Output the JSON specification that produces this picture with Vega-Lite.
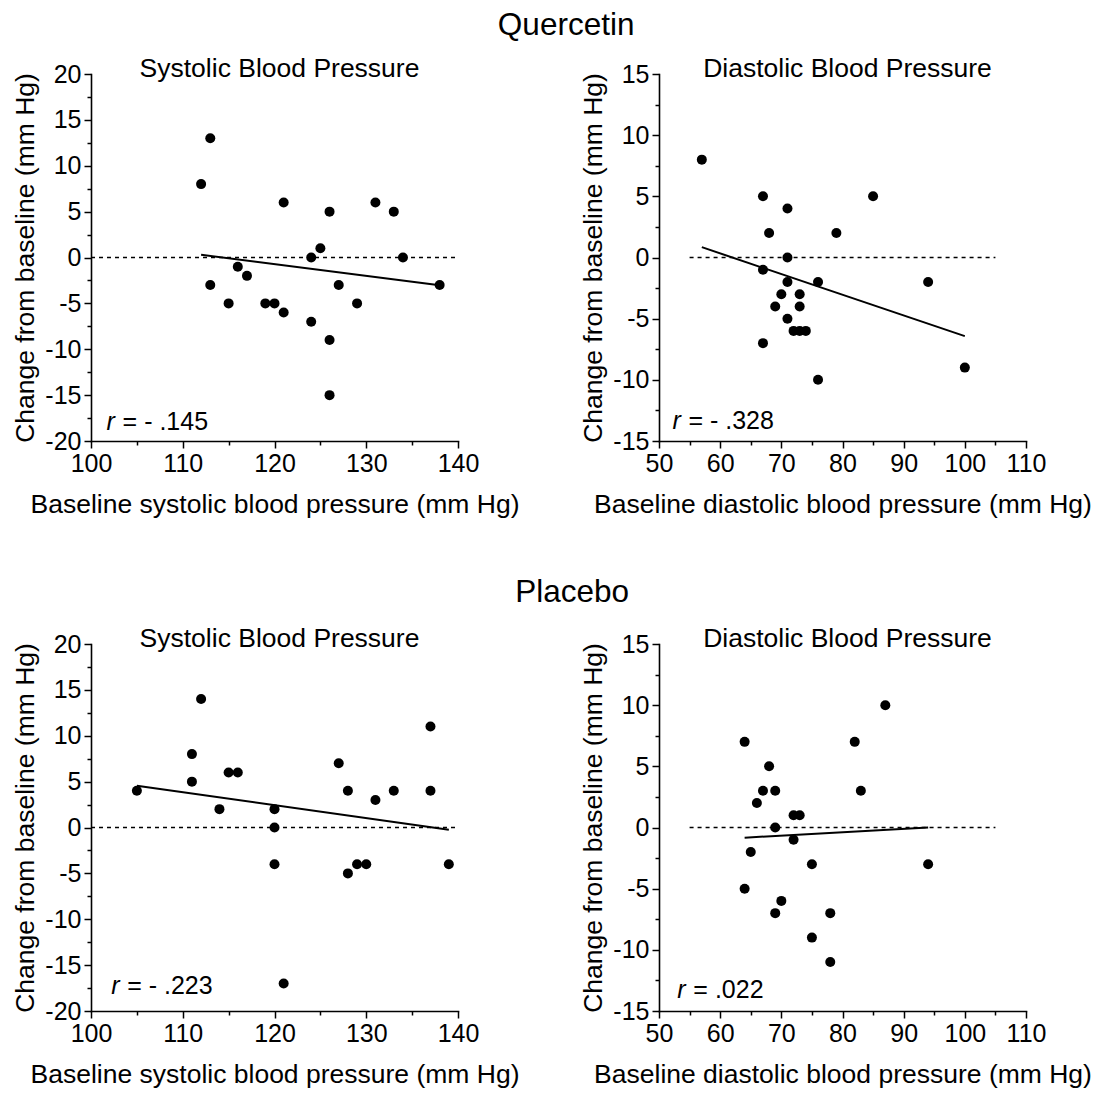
{
  "$schema": "https://vega.github.io/schema/vega-lite/v6.json",
  "background": "white",
  "padding": {"left": 12, "top": 10, "right": 5, "bottom": 5},
  "datasets": {
    "qs": [
      {"bp": 113, "change": 13}, {"bp": 112, "change": 8}, {"bp": 121, "change": 6}, {"bp": 126, "change": 5},
      {"bp": 131, "change": 6}, {"bp": 133, "change": 5}, {"bp": 125, "change": 1}, {"bp": 124, "change": 0},
      {"bp": 134, "change": 0}, {"bp": 116, "change": -1}, {"bp": 117, "change": -2}, {"bp": 113, "change": -3},
      {"bp": 127, "change": -3}, {"bp": 138, "change": -3}, {"bp": 115, "change": -5}, {"bp": 119, "change": -5},
      {"bp": 120, "change": -5}, {"bp": 129, "change": -5}, {"bp": 121, "change": -6}, {"bp": 124, "change": -7},
      {"bp": 126, "change": -9}, {"bp": 126, "change": -15}
    ],
    "qd": [
      {"bp": 57, "change": 8}, {"bp": 67, "change": 5}, {"bp": 71, "change": 4}, {"bp": 85, "change": 5},
      {"bp": 68, "change": 2}, {"bp": 79, "change": 2}, {"bp": 71, "change": 0}, {"bp": 67, "change": -1},
      {"bp": 71, "change": -2}, {"bp": 76, "change": -2}, {"bp": 94, "change": -2}, {"bp": 70, "change": -3},
      {"bp": 73, "change": -3}, {"bp": 69, "change": -4}, {"bp": 73, "change": -4}, {"bp": 71, "change": -5},
      {"bp": 72, "change": -6}, {"bp": 73, "change": -6}, {"bp": 74, "change": -6}, {"bp": 67, "change": -7},
      {"bp": 76, "change": -10}, {"bp": 100, "change": -9}
    ],
    "ps": [
      {"bp": 105, "change": 4}, {"bp": 111, "change": 8}, {"bp": 112, "change": 14}, {"bp": 111, "change": 5},
      {"bp": 115, "change": 6}, {"bp": 116, "change": 6}, {"bp": 114, "change": 2}, {"bp": 120, "change": 2},
      {"bp": 120, "change": 0}, {"bp": 120, "change": -4}, {"bp": 121, "change": -17}, {"bp": 127, "change": 7},
      {"bp": 128, "change": 4}, {"bp": 128, "change": -5}, {"bp": 129, "change": -4}, {"bp": 130, "change": -4},
      {"bp": 131, "change": 3}, {"bp": 133, "change": 4}, {"bp": 137, "change": 11}, {"bp": 137, "change": 4},
      {"bp": 139, "change": -4}
    ],
    "pd": [
      {"bp": 64, "change": 7}, {"bp": 87, "change": 10}, {"bp": 82, "change": 7}, {"bp": 68, "change": 5},
      {"bp": 67, "change": 3}, {"bp": 69, "change": 3}, {"bp": 83, "change": 3}, {"bp": 66, "change": 2},
      {"bp": 72, "change": 1}, {"bp": 73, "change": 1}, {"bp": 69, "change": 0}, {"bp": 72, "change": -1},
      {"bp": 65, "change": -2}, {"bp": 75, "change": -3}, {"bp": 94, "change": -3}, {"bp": 64, "change": -5},
      {"bp": 70, "change": -6}, {"bp": 69, "change": -7}, {"bp": 78, "change": -7}, {"bp": 75, "change": -9},
      {"bp": 78, "change": -11}
    ]
  },
  "config": {
    "font": "Liberation Sans",
    "view": {"stroke": null},
    "axis": {
      "grid": false,
      "labelFlush": false,
      "labelOverlap": false,
      "domainColor": "black",
      "domainWidth": 1.6,
      "domainCap": "square",
      "tickColor": "black",
      "tickWidth": 1.5,
      "labelColor": "black",
      "labelFont": "Liberation Sans",
      "labelFontSize": 25,
      "labelPadding": 3,
      "titleColor": "black",
      "titleFont": "Liberation Sans",
      "titleFontSize": 26.5,
      "titleFontWeight": "normal"
    },
    "title": {"color": "black", "font": "Liberation Sans", "fontWeight": "normal"}
  },
  "spacing": 570,
  "bounds": "flush",
  "vconcat": [
    {
      "title": {"text": "Quercetin", "fontSize": 31.5, "anchor": "middle", "frame": "bounds", "dx": 14, "offset": 14},
      "spacing": 201,
      "bounds": "flush",
      "hconcat": [
        {
          "width": 367, "height": 367,
          "title": {"text": "Systolic Blood Pressure", "fontSize": 26.5, "anchor": "middle", "dx": 5, "offset": -20},
          "resolve": {"axis": {"x": "independent", "y": "independent"}},
          "layer": [
            {
              "data": {"values": [{}]},
              "mark": {"type": "rule", "color": "black", "strokeWidth": 1.3, "strokeDash": [4, 4]},
              "encoding": {
                "x": {"datum": 100, "type": "quantitative", "scale": {"domain": [100, 140], "nice": false, "zero": false},
                      "axis": {"orient": "bottom", "values": [105, 115, 125, 135], "labels": false, "domain": false, "tickSize": 4, "title": null}},
                "x2": {"datum": 140},
                "y": {"datum": 0, "type": "quantitative", "scale": {"domain": [-20, 20], "nice": false, "zero": false},
                      "axis": {"orient": "left", "values": [-17.5, -12.5, -7.5, -2.5, 2.5, 7.5, 12.5, 17.5], "labels": false, "domain": false, "tickSize": 4, "title": null}}
              }
            },
            {
              "data": {"name": "qs"},
              "mark": {"type": "point", "filled": true, "color": "black", "size": 100, "opacity": 1},
              "encoding": {
                "x": {"field": "bp", "type": "quantitative",
                      "axis": {"orient": "bottom", "values": [100, 110, 120, 130, 140], "tickSize": 7, "title": "Baseline systolic blood pressure (mm Hg)", "titlePadding": 15}},
                "y": {"field": "change", "type": "quantitative",
                      "axis": {"orient": "left", "values": [-20, -15, -10, -5, 0, 5, 10, 15, 20], "tickSize": 7, "title": "Change from baseline (mm Hg)", "titlePadding": 5,
                               "labelExpr": "datum.value < 0 ? '-' + abs(datum.value) : '' + datum.value"}}
              }
            },
            {
              "data": {"name": "qs"},
              "transform": [{"regression": "change", "on": "bp"}],
              "mark": {"type": "line", "color": "black", "strokeWidth": 2},
              "encoding": {
                "x": {"field": "bp", "type": "quantitative", "axis": null},
                "y": {"field": "change", "type": "quantitative", "axis": null}
              }
            },
            {
              "data": {"values": [{"label": "r"}]},
              "mark": {"type": "text", "fontSize": 25, "fontStyle": "italic", "align": "left", "baseline": "alphabetic", "color": "black"},
              "encoding": {
                "x": {"datum": 101.7, "type": "quantitative", "axis": null},
                "y": {"datum": -18.8, "type": "quantitative", "axis": null},
                "text": {"field": "label"}
              }
            },
            {
              "data": {"values": [{"label": "= - .145"}]},
              "mark": {"type": "text", "fontSize": 25, "align": "left", "baseline": "alphabetic", "color": "black", "dx": 16},
              "encoding": {
                "x": {"datum": 101.7, "type": "quantitative", "axis": null},
                "y": {"datum": -18.8, "type": "quantitative", "axis": null},
                "text": {"field": "label"}
              }
            }
          ]
        },
        {
          "width": 367, "height": 367,
          "title": {"text": "Diastolic Blood Pressure", "fontSize": 26.5, "anchor": "middle", "dx": 5, "offset": -20},
          "resolve": {"axis": {"x": "independent", "y": "independent"}},
          "layer": [
            {
              "data": {"values": [{}]},
              "mark": {"type": "rule", "color": "black", "strokeWidth": 1.3, "strokeDash": [4, 4]},
              "encoding": {
                "x": {"datum": 55, "type": "quantitative", "scale": {"domain": [50, 110], "nice": false, "zero": false},
                      "axis": {"orient": "bottom", "values": [55, 65, 75, 85, 95, 105], "labels": false, "domain": false, "tickSize": 4, "title": null}},
                "x2": {"datum": 105},
                "y": {"datum": 0, "type": "quantitative", "scale": {"domain": [-15, 15], "nice": false, "zero": false},
                      "axis": {"orient": "left", "values": [-12.5, -7.5, -2.5, 2.5, 7.5, 12.5], "labels": false, "domain": false, "tickSize": 4, "title": null}}
              }
            },
            {
              "data": {"name": "qd"},
              "mark": {"type": "point", "filled": true, "color": "black", "size": 100, "opacity": 1},
              "encoding": {
                "x": {"field": "bp", "type": "quantitative",
                      "axis": {"orient": "bottom", "values": [50, 60, 70, 80, 90, 100, 110], "tickSize": 7, "title": "Baseline diastolic blood pressure (mm Hg)", "titlePadding": 15}},
                "y": {"field": "change", "type": "quantitative",
                      "axis": {"orient": "left", "values": [-15, -10, -5, 0, 5, 10, 15], "tickSize": 7, "title": "Change from baseline (mm Hg)", "titlePadding": 5,
                               "labelExpr": "datum.value < 0 ? '-' + abs(datum.value) : '' + datum.value"}}
              }
            },
            {
              "data": {"name": "qd"},
              "transform": [{"regression": "change", "on": "bp"}],
              "mark": {"type": "line", "color": "black", "strokeWidth": 2},
              "encoding": {
                "x": {"field": "bp", "type": "quantitative", "axis": null},
                "y": {"field": "change", "type": "quantitative", "axis": null}
              }
            },
            {
              "data": {"values": [{"label": "r"}]},
              "mark": {"type": "text", "fontSize": 25, "fontStyle": "italic", "align": "left", "baseline": "alphabetic", "color": "black"},
              "encoding": {
                "x": {"datum": 52.2, "type": "quantitative", "axis": null},
                "y": {"datum": -14.0, "type": "quantitative", "axis": null},
                "text": {"field": "label"}
              }
            },
            {
              "data": {"values": [{"label": "= - .328"}]},
              "mark": {"type": "text", "fontSize": 25, "align": "left", "baseline": "alphabetic", "color": "black", "dx": 16},
              "encoding": {
                "x": {"datum": 52.2, "type": "quantitative", "axis": null},
                "y": {"datum": -14.0, "type": "quantitative", "axis": null},
                "text": {"field": "label"}
              }
            }
          ]
        }
      ]
    },
    {
      "title": {"text": "Placebo", "fontSize": 31.5, "anchor": "middle", "frame": "bounds", "dx": 20, "offset": 17},
      "spacing": 201,
      "bounds": "flush",
      "hconcat": [
        {
          "width": 367, "height": 367,
          "title": {"text": "Systolic Blood Pressure", "fontSize": 26.5, "anchor": "middle", "dx": 5, "offset": -20},
          "resolve": {"axis": {"x": "independent", "y": "independent"}},
          "layer": [
            {
              "data": {"values": [{}]},
              "mark": {"type": "rule", "color": "black", "strokeWidth": 1.3, "strokeDash": [4, 4]},
              "encoding": {
                "x": {"datum": 100, "type": "quantitative", "scale": {"domain": [100, 140], "nice": false, "zero": false},
                      "axis": {"orient": "bottom", "values": [105, 115, 125, 135], "labels": false, "domain": false, "tickSize": 4, "title": null}},
                "x2": {"datum": 140},
                "y": {"datum": 0, "type": "quantitative", "scale": {"domain": [-20, 20], "nice": false, "zero": false},
                      "axis": {"orient": "left", "values": [-17.5, -12.5, -7.5, -2.5, 2.5, 7.5, 12.5, 17.5], "labels": false, "domain": false, "tickSize": 4, "title": null}}
              }
            },
            {
              "data": {"name": "ps"},
              "mark": {"type": "point", "filled": true, "color": "black", "size": 100, "opacity": 1},
              "encoding": {
                "x": {"field": "bp", "type": "quantitative",
                      "axis": {"orient": "bottom", "values": [100, 110, 120, 130, 140], "tickSize": 7, "title": "Baseline systolic blood pressure (mm Hg)", "titlePadding": 15}},
                "y": {"field": "change", "type": "quantitative",
                      "axis": {"orient": "left", "values": [-20, -15, -10, -5, 0, 5, 10, 15, 20], "tickSize": 7, "title": "Change from baseline (mm Hg)", "titlePadding": 5,
                               "labelExpr": "datum.value < 0 ? '-' + abs(datum.value) : '' + datum.value"}}
              }
            },
            {
              "data": {"name": "ps"},
              "transform": [{"regression": "change", "on": "bp"}],
              "mark": {"type": "line", "color": "black", "strokeWidth": 2},
              "encoding": {
                "x": {"field": "bp", "type": "quantitative", "axis": null},
                "y": {"field": "change", "type": "quantitative", "axis": null}
              }
            },
            {
              "data": {"values": [{"label": "r"}]},
              "mark": {"type": "text", "fontSize": 25, "fontStyle": "italic", "align": "left", "baseline": "alphabetic", "color": "black"},
              "encoding": {
                "x": {"datum": 102.2, "type": "quantitative", "axis": null},
                "y": {"datum": -18.2, "type": "quantitative", "axis": null},
                "text": {"field": "label"}
              }
            },
            {
              "data": {"values": [{"label": "= - .223"}]},
              "mark": {"type": "text", "fontSize": 25, "align": "left", "baseline": "alphabetic", "color": "black", "dx": 16},
              "encoding": {
                "x": {"datum": 102.2, "type": "quantitative", "axis": null},
                "y": {"datum": -18.2, "type": "quantitative", "axis": null},
                "text": {"field": "label"}
              }
            }
          ]
        },
        {
          "width": 367, "height": 367,
          "title": {"text": "Diastolic Blood Pressure", "fontSize": 26.5, "anchor": "middle", "dx": 5, "offset": -20},
          "resolve": {"axis": {"x": "independent", "y": "independent"}},
          "layer": [
            {
              "data": {"values": [{}]},
              "mark": {"type": "rule", "color": "black", "strokeWidth": 1.3, "strokeDash": [4, 4]},
              "encoding": {
                "x": {"datum": 55, "type": "quantitative", "scale": {"domain": [50, 110], "nice": false, "zero": false},
                      "axis": {"orient": "bottom", "values": [55, 65, 75, 85, 95, 105], "labels": false, "domain": false, "tickSize": 4, "title": null}},
                "x2": {"datum": 105},
                "y": {"datum": 0, "type": "quantitative", "scale": {"domain": [-15, 15], "nice": false, "zero": false},
                      "axis": {"orient": "left", "values": [-12.5, -7.5, -2.5, 2.5, 7.5, 12.5], "labels": false, "domain": false, "tickSize": 4, "title": null}}
              }
            },
            {
              "data": {"name": "pd"},
              "mark": {"type": "point", "filled": true, "color": "black", "size": 100, "opacity": 1},
              "encoding": {
                "x": {"field": "bp", "type": "quantitative",
                      "axis": {"orient": "bottom", "values": [50, 60, 70, 80, 90, 100, 110], "tickSize": 7, "title": "Baseline diastolic blood pressure (mm Hg)", "titlePadding": 15}},
                "y": {"field": "change", "type": "quantitative",
                      "axis": {"orient": "left", "values": [-15, -10, -5, 0, 5, 10, 15], "tickSize": 7, "title": "Change from baseline (mm Hg)", "titlePadding": 5,
                               "labelExpr": "datum.value < 0 ? '-' + abs(datum.value) : '' + datum.value"}}
              }
            },
            {
              "data": {"name": "pd"},
              "transform": [{"regression": "change", "on": "bp"}],
              "mark": {"type": "line", "color": "black", "strokeWidth": 2},
              "encoding": {
                "x": {"field": "bp", "type": "quantitative", "axis": null},
                "y": {"field": "change", "type": "quantitative", "axis": null}
              }
            },
            {
              "data": {"values": [{"label": "r"}]},
              "mark": {"type": "text", "fontSize": 25, "fontStyle": "italic", "align": "left", "baseline": "alphabetic", "color": "black"},
              "encoding": {
                "x": {"datum": 53.0, "type": "quantitative", "axis": null},
                "y": {"datum": -13.9, "type": "quantitative", "axis": null},
                "text": {"field": "label"}
              }
            },
            {
              "data": {"values": [{"label": "= .022"}]},
              "mark": {"type": "text", "fontSize": 25, "align": "left", "baseline": "alphabetic", "color": "black", "dx": 16},
              "encoding": {
                "x": {"datum": 53.0, "type": "quantitative", "axis": null},
                "y": {"datum": -13.9, "type": "quantitative", "axis": null},
                "text": {"field": "label"}
              }
            }
          ]
        }
      ]
    }
  ]
}
